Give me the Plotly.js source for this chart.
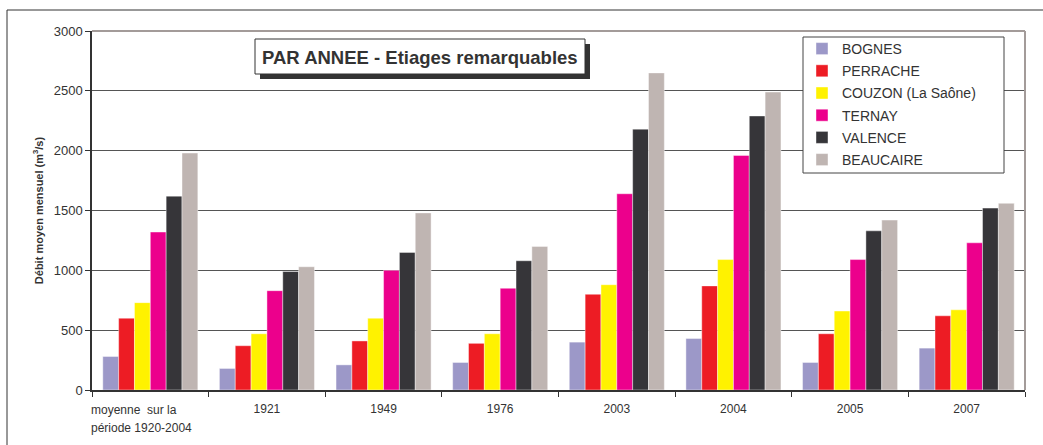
<!DOCTYPE html>
<html><head><meta charset="utf-8">
<script src="https://cdn.plot.ly/plotly-3.0.1.min.js"></script>
<style>body{margin:0;background:#fff}#chart{width:1043px;height:445px}</style></head>
<body><div id="chart"></div>
<script>
const categories = ["moyenne  sur la<br>période 1920-2004","1921","1949","1976","2003","2004","2005","2007"];
const bognes    = [280, 180, 210, 230, 400, 430, 230, 350];
const perrache  = [600, 370, 410, 390, 800, 870, 470, 620];
const couzon    = [730, 470, 600, 470, 880, 1090, 660, 670];
const ternay    = [1320, 830, 1000, 850, 1640, 1960, 1090, 1230];
const valence   = [1620, 990, 1150, 1080, 2180, 2290, 1330, 1520];
const beaucaire = [1980, 1030, 1480, 1200, 2650, 2490, 1420, 1560];
const seriesNames  = ["BOGNES","PERRACHE","COUZON (La Saône)","TERNAY","VALENCE","BEAUCAIRE"];
const seriesValues = [bognes, perrache, couzon, ternay, valence, beaucaire];
const seriesColors = ["#9c98c8","#ed1c24","#fff200","#ec008c","#363539","#bfb5b2"];
const yTicks = [0,500,1000,1500,2000,2500,3000];
const titleText = "PAR ANNEE - Etiages remarquables";
const yTitle = "Débit moyen mensuel (m<sup>3</sup>/s)";

// pixel -> paper helpers (plot area: x 92..1025, y 31..390)
const L = 92, R = 1025, T = 31, B = 390;
const px = x => (x - L) / (R - L);
const py = y => (B - y) / (B - T);

const traces = seriesNames.map((n, i) => ({
  type: 'bar', name: n, x: categories, y: seriesValues[i], legendgroup: 'g' + i,
  marker: {color: seriesColors[i], line: {color: 'rgba(255,255,255,0.7)', width: 0.6}},
  hoverinfo: 'x+y+name'
}));

const firstLines = categories[0].split('<br>');
const fontFam = 'Liberation Sans, Arial, sans-serif';

const layout = {
  width: 1043, height: 445,
  margin: {l: L, r: 1043 - R, t: T, b: 445 - B},
  paper_bgcolor: '#fff', plot_bgcolor: '#fff',
  font: {family: fontFam, color: '#333', size: 12},
  barmode: 'group', bargap: 0.185, bargroupgap: 0,
  showlegend: true,
  legend: {
    x: px(802), y: py(33), xanchor: 'left', yanchor: 'top',
    bgcolor: 'rgba(0,0,0,0)', borderwidth: 0,
    font: {size: 14, color: '#333', family: fontFam},
    traceorder: 'grouped', tracegroupgap: 1
  },
  xaxis: {
    type: 'category', tickmode: 'array', tickvals: categories,
    ticktext: categories.map((c, i) => i === 0 ? '' : c),
    tickson: 'boundaries', ticks: 'outside', ticklen: 5, tickcolor: '#333', tickwidth: 1,
    showline: true, linecolor: '#333', linewidth: 1.5,
    showgrid: false, zeroline: false, ticklabelstandoff: 7,
    tickfont: {size: 12, color: '#333'}
  },
  yaxis: {
    range: [0, 3000], tickvals: yTicks, ticks: 'outside', ticklen: 5, tickcolor: '#333',
    showline: true, linecolor: '#333', linewidth: 1.5,
    showgrid: true, gridcolor: '#555', gridwidth: 1, zeroline: false,
    tickfont: {size: 13, color: '#333'},
    title: {text: yTitle, font: {size: 11, color: '#333', family: fontFam, weight: 'bold'}, standoff: 8}
  },
  shapes: [
    // outer frame
    {type: 'line', xref: 'paper', yref: 'paper', x0: px(7), x1: px(1050), y0: py(10), y1: py(10), line: {color: '#333', width: 1}},
    {type: 'line', xref: 'paper', yref: 'paper', x0: px(7), x1: px(7), y0: py(10), y1: py(460), line: {color: '#333', width: 1}},
    // plot border top & right (grey)
    {type: 'line', xref: 'paper', yref: 'paper', x0: 0, x1: 1, y0: 1, y1: 1, line: {color: '#a39b99', width: 2}},
    {type: 'line', xref: 'paper', yref: 'paper', x0: 1, x1: 1, y0: 0, y1: 1, line: {color: '#a39b99', width: 2}},
    // title shadow and box
    {type: 'rect', xref: 'paper', yref: 'paper', x0: px(260), x1: px(590), y0: py(44), y1: py(79), fillcolor: '#333', line: {width: 0}},
    {type: 'rect', xref: 'paper', yref: 'paper', x0: px(255), x1: px(585), y0: py(39), y1: py(74), fillcolor: '#fff', line: {color: '#333', width: 1}},
    // legend box
    {type: 'rect', xref: 'paper', yref: 'paper', x0: px(803), x1: px(1004), y0: py(37), y1: py(173), fillcolor: '#fff', line: {color: '#444', width: 1}}
  ],
  annotations: [
    {text: '<b>' + titleText + '</b>', xref: 'paper', yref: 'paper', x: px(420), y: py(57),
     xanchor: 'center', yanchor: 'middle', showarrow: false, font: {size: 18.5, color: '#333', family: fontFam}},
    {text: firstLines[0], xref: 'paper', yref: 'paper', x: px(89), y: py(410),
     xanchor: 'left', yanchor: 'middle', showarrow: false, font: {size: 12, color: '#333'}},
    {text: firstLines[1], xref: 'paper', yref: 'paper', x: px(89), y: py(428),
     xanchor: 'left', yanchor: 'middle', showarrow: false, font: {size: 12, color: '#333'}}
  ]
};

Plotly.newPlot('chart', traces, layout, {displayModeBar: false, responsive: false});
</script></body></html>
